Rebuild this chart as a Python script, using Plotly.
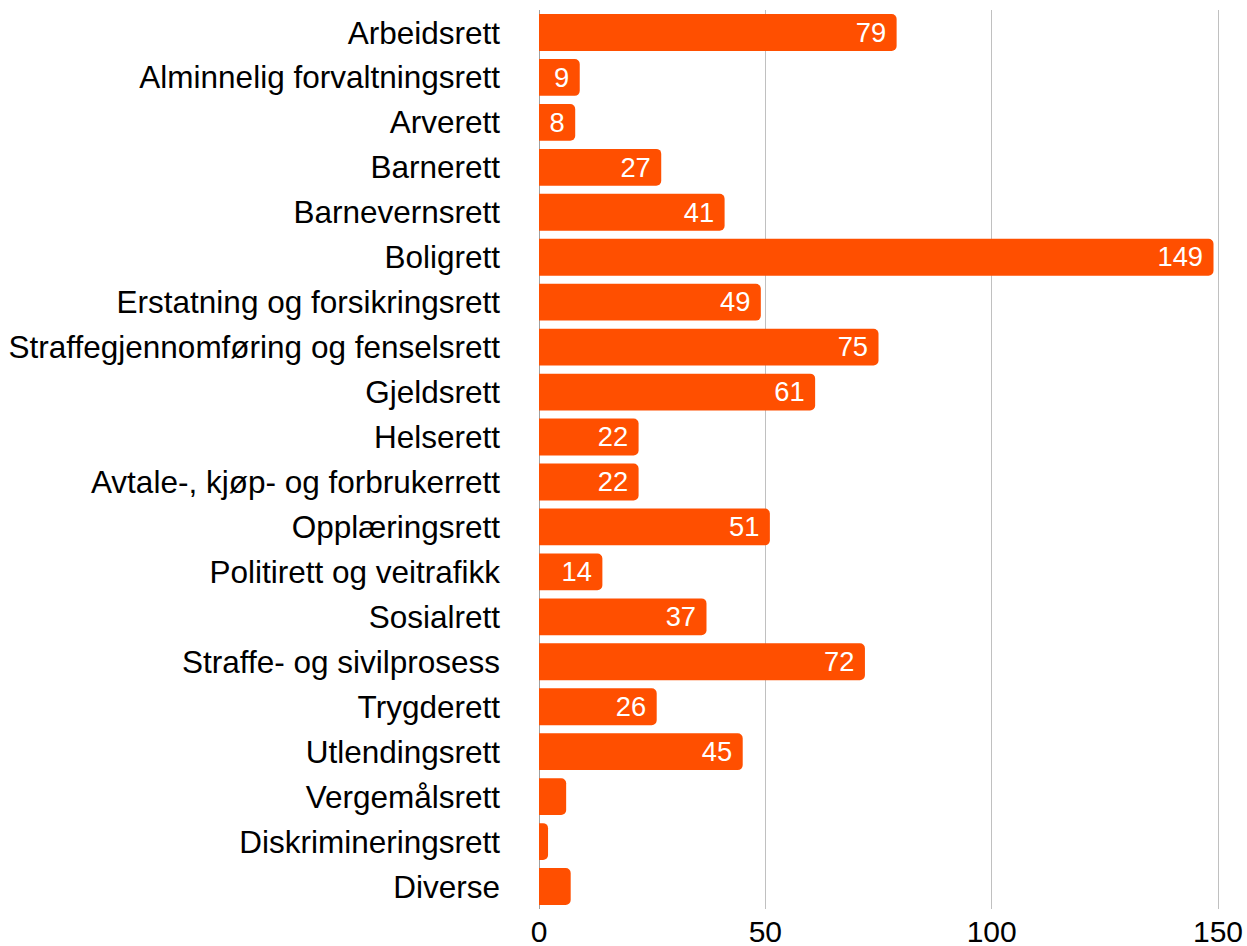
import plotly.graph_objects as go

categories = [
    "Arbeidsrett", "Alminnelig forvaltningsrett", "Arverett", "Barnerett",
    "Barnevernsrett", "Boligrett", "Erstatning og forsikringsrett",
    "Straffegjennomføring og fenselsrett", "Gjeldsrett", "Helserett",
    "Avtale-, kjøp- og forbrukerrett", "Opplæringsrett", "Politirett og veitrafikk",
    "Sosialrett", "Straffe- og sivilprosess", "Trygderett", "Utlendingsrett",
    "Vergemålsrett", "Diskrimineringsrett", "Diverse",
]
values = [79, 9, 8, 27, 41, 149, 49, 75, 61, 22, 22, 51, 14, 37, 72, 26, 45, 6, 2, 7]
labels = [(str(v) + "\u2009") if v >= 8 else "" for v in values]
tick_vals = [0, 50, 100, 150]

fig = go.Figure(go.Bar(
    y=categories, x=values, orientation="h",
    marker=dict(color="#FF4F00", line=dict(width=0)),
    text=labels, textposition="inside", insidetextanchor="end",
    textfont=dict(color="white", size=31, family="Liberation Sans"),
    textangle=0, cliponaxis=False, hoverinfo="skip",
))
fig.update_layout(
    width=1247, height=946,
    margin=dict(l=539, r=0, t=9.5, b=36.5, autoexpand=False),
    paper_bgcolor="white", plot_bgcolor="white",
    bargap=0.18, barcornerradius=5,
    font=dict(family="Liberation Sans", size=31.5, color="black"),
    showlegend=False,
    uniformtext=dict(mode="show", minsize=10),
)
fig.update_xaxes(
    range=[0, 156.4], tickvals=tick_vals, showgrid=True, gridcolor="#C0C0C0",
    gridwidth=1, zeroline=True, zerolinecolor="#A0A0A0", zerolinewidth=1,
    tickfont=dict(size=30), ticks="", ticklabelstandoff=2, automargin=False,
)
fig.update_yaxes(
    autorange="reversed", ticks="", ticklabelstandoff=38,
    tickfont=dict(size=31.5), showgrid=False, automargin=False,
)
fig.write_html(
    "out.html",
    config={"displayModeBar": False},
    post_script="document.body.style.margin='0';document.documentElement.style.overflow='hidden';document.body.style.overflow='hidden';",
)
